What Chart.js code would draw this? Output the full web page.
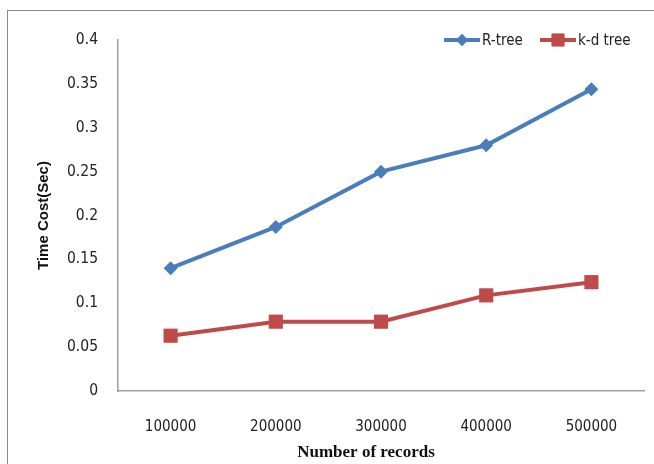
<!DOCTYPE html>
<html>
<head>
<meta charset="utf-8">
<script src="https://cdn.jsdelivr.net/npm/chart.js@4"></script>
<style>
  html, body { margin: 0; padding: 0; background: #fff; overflow: hidden; }
  #wrap { position: relative; width: 654px; height: 464px; }
  #frame { position: absolute; left: 7px; top: 10px; width: 700px; height: 500px; border: 1px solid #8a8a8a; }
  canvas { position: absolute; left: 0; top: 0; }
</style>
</head>
<body>
<div id="wrap">
  <div id="frame"></div>
  <canvas id="chart" width="654" height="464"></canvas>
</div>
<script>
const records = ["100000", "200000", "300000", "400000", "500000"];
const rTree = [0.140, 0.187, 0.250, 0.280, 0.344];
const kdTree = [0.063, 0.079, 0.079, 0.109, 0.124];
const yTicks = [0, 0.05, 0.1, 0.15, 0.2, 0.25, 0.3, 0.35, 0.4];

const BLUE = "#4a7ebb";
const RED = "#be4b48";
const tickFont = "'Liberation Sans Narrow', 'DejaVu Sans Condensed', sans-serif";

// legend and x title drawn by hand so the line+marker swatch matches the series
const extras = {
    id: "extras",
    afterDraw(chart) {
        const ctx = chart.ctx;
        ctx.save();
        const items = [
            { label: "R-tree", color: BLUE, style: "rectRot", r: 6, x: 444 },
            { label: "k-d tree", color: RED, style: "rect", r: 9, x: 540 }
        ];
        const y = 40;
        items.forEach(it => {
            ctx.strokeStyle = it.color;
            ctx.lineWidth = 4;
            ctx.beginPath();
            ctx.moveTo(it.x, y);
            ctx.lineTo(it.x + 36, y);
            ctx.stroke();
            ctx.fillStyle = it.color;
            Chart.helpers.drawPoint(ctx, { pointStyle: it.style, radius: it.r, borderWidth: 0 }, it.x + 18, y);
            ctx.fill();
            ctx.fillStyle = "#222";
            ctx.font = "15px " + tickFont;
            ctx.textBaseline = "middle";
            ctx.textAlign = "left";
            ctx.fillText(it.label, it.x + 38, y + 1);
        });
        ctx.font = "bold 17px 'Liberation Serif', serif";
        ctx.textAlign = "center";
        ctx.fillStyle = "#111";
        ctx.fillText("Number of records", 366, 453);
        ctx.restore();
    }
};

new Chart(document.getElementById("chart"), {
    type: "line",
    data: {
        labels: records,
        datasets: [
            {
                label: "R-tree",
                data: rTree,
                borderColor: BLUE,
                backgroundColor: BLUE,
                borderWidth: 4,
                pointStyle: "rectRot",
                pointRadius: 7,
                pointBorderWidth: 0,
                tension: 0
            },
            {
                label: "k-d tree",
                data: kdTree,
                borderColor: RED,
                backgroundColor: RED,
                borderWidth: 4,
                pointStyle: "rect",
                pointRadius: 10,
                pointBorderWidth: 0,
                tension: 0
            }
        ]
    },
    options: {
        responsive: false,
        animation: false,
        layout: { padding: { left: 8, top: 40, right: 9, bottom: 0 } },
        plugins: {
            legend: { display: false },
            tooltip: { enabled: false }
        },
        scales: {
            x: {
                offset: true,
                grid: { display: false, drawTicks: false },
                border: { color: "#a0a0a0", width: 1.5 },
                ticks: { color: "#222", font: { family: tickFont, size: 15 }, padding: 27 },
                afterFit(scale) { scale.height = 73; }
            },
            y: {
                min: 0,
                max: 0.4,
                afterBuildTicks(scale) { scale.ticks = yTicks.map(v => ({ value: v })); },
                grid: { display: false, drawTicks: false },
                border: { color: "#a0a0a0", width: 1.5 },
                ticks: {
                    color: "#222",
                    font: { family: tickFont, size: 15.5 },
                    padding: 20,
                    callback: v => String(+v.toFixed(2))
                },
                title: {
                    display: true,
                    text: "Time Cost(Sec)",
                    color: "#111",
                    font: { family: "'Liberation Sans', Arial, sans-serif", size: 15, weight: "bold" },
                    padding: { top: 27, bottom: 0 }
                },
                afterFit(scale) { scale.width = 110; }
            }
        }
    },
    plugins: [extras]
});
</script>
</body>
</html>
